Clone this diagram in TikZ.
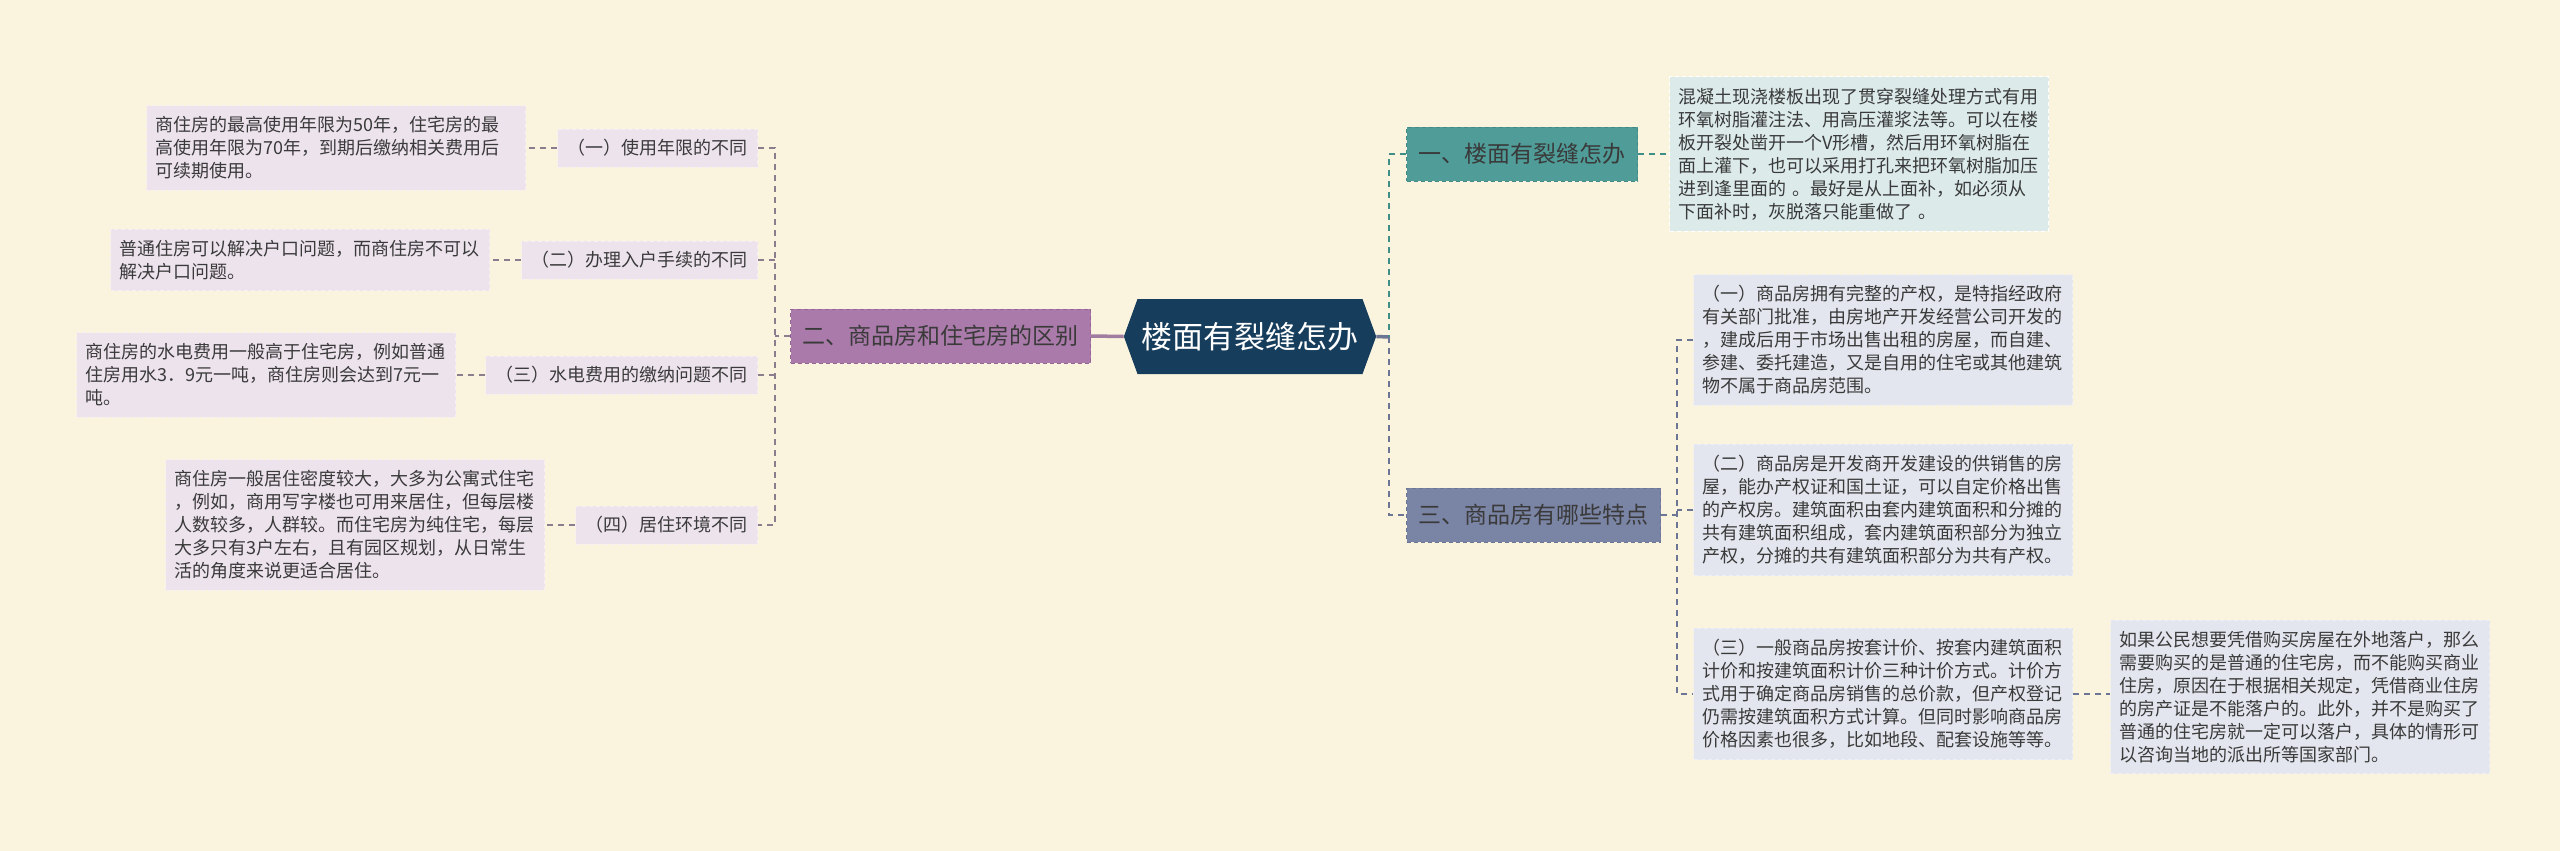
\documentclass[tikz,border=0pt]{standalone}
\usepackage{fontspec}
\setmainfont{Noto Sans CJK SC}
\usetikzlibrary{shapes.symbols}
\definecolor{bgc}{HTML}{FAF4DE}
\definecolor{rootc}{HTML}{173D5C}
\definecolor{purM}{HTML}{AA7AAA}
\definecolor{purMB}{HTML}{966596}
\definecolor{purL}{HTML}{EDE3ED}
\definecolor{purLB}{HTML}{F6EFF3}
\definecolor{purE}{HTML}{8C7D8E}
\definecolor{purS}{HTML}{A07CA0}
\definecolor{tealM}{HTML}{4F9C98}
\definecolor{tealMB}{HTML}{448A86}
\definecolor{tealL}{HTML}{DCEAEA}
\definecolor{tealE}{HTML}{3F8E88}
\definecolor{slaM}{HTML}{7A84A5}
\definecolor{slaMB}{HTML}{6B7596}
\definecolor{slaL}{HTML}{E3E6EE}
\definecolor{slaLB}{HTML}{EEF0F5}
\definecolor{slaE}{HTML}{6D7594}
\definecolor{txtc}{HTML}{3A3A3A}
\newcommand{\fsLeaf}{\fontsize{18}{23}\selectfont}
\newcommand{\fsMain}{\fontsize{23}{27}\selectfont}
\newcommand{\fsRoot}{\fontsize{31}{36}\selectfont}
\tikzset{
  boxbase/.style={line width=1pt, dash pattern=on 4pt off 3pt, text=txtc},
  leafbox/.style={boxbase, inner xsep=9pt, inner ysep=11pt, align=left, text width=361pt, font=\fsLeaf},
  leafP/.style={leafbox, fill=purL, draw=purLB},
  leafT/.style={leafbox, fill=tealL, draw=white},
  leafS/.style={leafbox, fill=slaL, draw=slaLB},
  subP/.style={boxbase, fill=purL, draw=purLB, inner xsep=10pt, inner ysep=0pt, minimum height=38pt, font=\fsLeaf},
  mainbox/.style={boxbase, inner xsep=12pt, inner ysep=0pt, minimum height=54pt, font=\fsMain},
  mainP/.style={mainbox, fill=purM, draw=purMB},
  mainT/.style={mainbox, fill=tealM, draw=tealMB},
  mainS/.style={mainbox, fill=slaM, draw=slaMB},
  rootbox/.style={signal, signal to=east and west, signal pointer angle=140, fill=rootc, text=white, font=\fsRoot, minimum height=75pt, minimum width=246pt, inner xsep=4pt, inner ysep=0pt},
  edgeP/.style={draw=purE, line width=2pt, dash pattern=on 6pt off 5pt},
  edgeT/.style={draw=tealE, line width=2pt, dash pattern=on 6pt off 5pt},
  edgeS/.style={draw=slaE, line width=2pt, dash pattern=on 6pt off 5pt},
  solidP/.style={draw=purS, line width=3.5pt},
  solidS/.style={draw=slaE, line width=3.5pt},
}
\begin{document}
\begin{tikzpicture}[x=1pt,y=-1pt]
\fill[bgc] (0,0) rectangle (2560,851);
\useasboundingbox (0,0) rectangle (2560,851);

% root
\node[rootbox] (root) at (1250,336.5) {楼面有裂缝怎办};

% left branch
\node[mainP, anchor=east] (m2) at (1091,336) {二、商品房和住宅房的区别};
\node[subP, anchor=east] (s1) at (758,148) {（一）使用年限的不同};
\node[subP, anchor=east] (s2) at (758,260) {（二）办理入户手续的不同};
\node[subP, anchor=east] (s3) at (758,375) {（三）水电费用的缴纳问题不同};
\node[subP, anchor=east] (s4) at (758,525) {（四）居住环境不同};

\node[leafP, anchor=east] (p1) at (526,148) {商住房的最高使用年限为50年，住宅房的最\\高使用年限为70年，到期后缴纳相关费用后\\可续期使用。};
\node[leafP, anchor=east] (p2) at (490,260) {普通住房可以解决户口问题，而商住房不可以\\解决户口问题。};
\node[leafP, anchor=east] (p3) at (456,375) {商住房的水电费用一般高于住宅房，例如普通\\住房用水3．9元一吨，商住房则会达到7元一\\吨。};
\node[leafP, anchor=east] (p4) at (545,525) {商住房一般居住密度较大，大多为公寓式住宅\\，例如，商用写字楼也可用来居住，但每层楼\\人数较多，人群较。而住宅房为纯住宅，每层\\大多只有3户左右，且有园区规划，从日常生\\活的角度来说更适合居住。};

% right branches
\node[mainT, anchor=west] (m1) at (1406,154) {一、楼面有裂缝怎办};
\node[mainS, anchor=west] (m3) at (1406,515) {三、商品房有哪些特点};

\node[leafT, anchor=west] (t1) at (1669,154) {混凝土现浇楼板出现了贯穿裂缝处理方式有用\\环氧树脂灌注法、用高压灌浆法等。可以在楼\\板开裂处凿开一个V形槽，然后用环氧树脂在\\面上灌下，也可以采用打孔来把环氧树脂加压\\进到逢里面的 。最好是从上面补，如必须从\\下面补时，灰脱落只能重做了 。};

\node[leafS, anchor=west] (q1) at (1693,340) {（一）商品房拥有完整的产权，是特指经政府\\有关部门批准，由房地产开发经营公司开发的\\，建成后用于市场出售出租的房屋，而自建、\\参建、委托建造，又是自用的住宅或其他建筑\\物不属于商品房范围。};
\node[leafS, anchor=west] (q2) at (1693,510) {（二）商品房是开发商开发建设的供销售的房\\屋，能办产权证和国土证，可以自定价格出售\\的产权房。建筑面积由套内建筑面积和分摊的\\共有建筑面积组成，套内建筑面积部分为独立\\产权，分摊的共有建筑面积部分为共有产权。};
\node[leafS, anchor=west] (q3) at (1693,694) {（三）一般商品房按套计价、按套内建筑面积\\计价和按建筑面积计价三种计价方式。计价方\\式用于确定商品房销售的总价款，但产权登记\\仍需按建筑面积方式计算。但同时影响商品房\\价格因素也很多，比如地段、配套设施等等。};
\node[leafS, anchor=west] (q4) at (2110,697) {如果公民想要凭借购买房屋在外地落户，那么\\需要购买的是普通的住宅房，而不能购买商业\\住房，原因在于根据相关规定，凭借商业住房\\的房产证是不能落户的。此外，并不是购买了\\普通的住宅房就一定可以落户，具体的情形可\\以咨询当地的派出所等国家部门。};

% spines
\coordinate (lsp) at (775,336);
\coordinate (rsp) at (1389,337);
\coordinate (qsp) at (1677,515);

% left connectors
\draw[solidP] (root.west) -- (m2.east);
\draw[edgeP] (m2.west) -- (lsp);
\draw[edgeP] (s1.east) -| (lsp) |- (s4.east);
\draw[edgeP] (s2.east) -- (s2.east -| lsp);
\draw[edgeP] (s3.east) -- (s3.east -| lsp);
\draw[edgeP] (s1.west) -- (p1.east);
\draw[edgeP] (s2.west) -- (p2.east);
\draw[edgeP] (s3.west) -- (p3.east);
\draw[edgeP] (s4.west) -- (p4.east);

% right connectors
\draw[solidS] (root.east) -- (rsp);
\draw[edgeT] (m1.west) -| (rsp);
\draw[edgeS] (rsp) |- (m3.west);
\draw[edgeT] (m1.east) -- (t1.west);
\draw[edgeS] (m3.east) -- (qsp);
\draw[edgeS] (q1.west) -| (qsp) |- (q3.west);
\draw[edgeS] (q2.west) -- (q2.west -| qsp);
\draw[edgeS] (q3.east) -- (q3.east -| q4.west);
\end{tikzpicture}
\end{document}
